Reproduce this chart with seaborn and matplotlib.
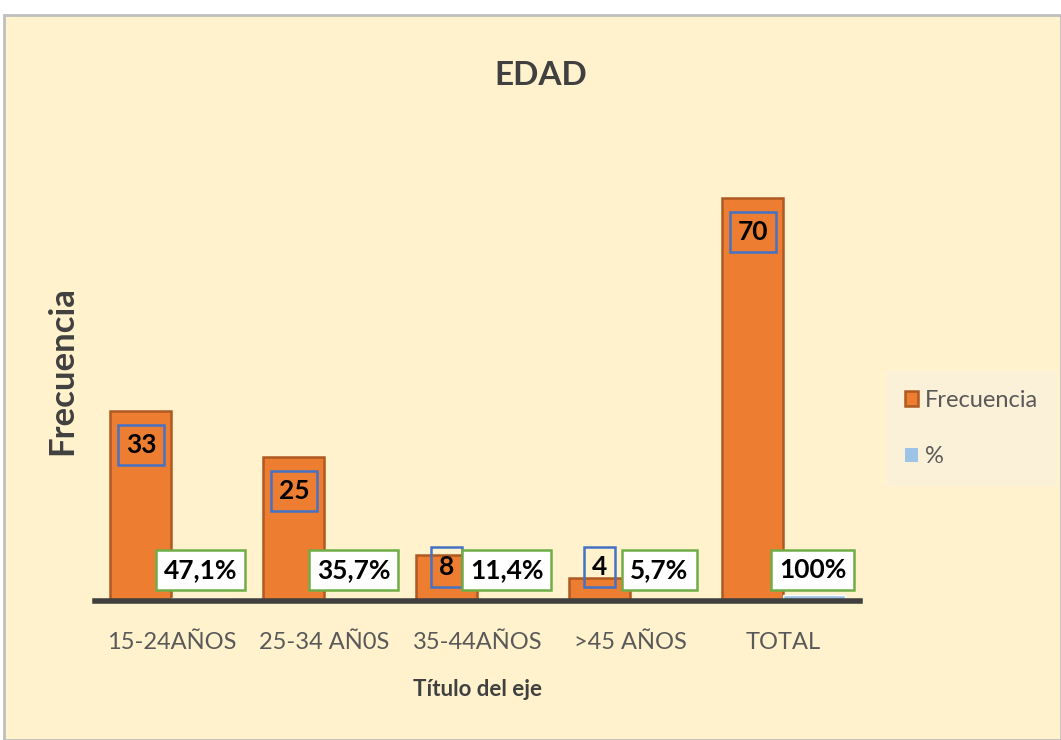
import numpy as np
import pandas as pd
import matplotlib.pyplot as plt
from matplotlib.patches import Rectangle, Patch
import seaborn as sns

# data
categorias = ['15-24AÑOS', '25-34 AÑ0S', '35-44AÑOS', '>45 AÑOS', 'TOTAL']
frecuencia = [33, 25, 8, 4, 70]
porcentaje = [0.471, 0.357, 0.114, 0.057, 1.0]

def pct_label(v):
    s = f'{v*100:.1f}'.replace('.', ',')
    if s.endswith(',0'):
        s = s[:-2]
    return s + '%'

df = pd.DataFrame({
    'cat': categorias * 2,
    'valor': frecuencia + porcentaje,
    'serie': ['Frecuencia'] * len(categorias) + ['%'] * len(categorias),
})

sns.set_theme(style='white')
plt.rcParams['font.family'] = ['Lato', 'DejaVu Sans']

fig = plt.figure(figsize=(10.61, 7.4), dpi=100, facecolor='white')
fig.add_artist(Rectangle((0.004, 0), 0.996, 0.98, transform=fig.transFigure,
                         facecolor='#FFF2CC', edgecolor='#BFBFBF', linewidth=2, zorder=-10))
ax = fig.add_axes([0.0895, 0.1878, 0.721, 0.623])
ax.set_facecolor('none')

orange = '#ED7D31'
blue = '#9DC3E6'
sns.barplot(data=df, x='cat', y='valor', hue='serie', palette=[orange, blue],
            ax=ax, width=0.8, gap=0, saturation=1, legend=False)
for p in ax.containers[0]:
    p.set_edgecolor('#AE5A21')
    p.set_linewidth(1.8)

ax.set_xlim(-0.5, 4.5)
ax.set_ylim(0, 80)
ax.set_yticks([])
for s in ['left', 'right', 'top']:
    ax.spines[s].set_visible(False)
ax.spines['bottom'].set_color('#404040')
ax.spines['bottom'].set_linewidth(4)
ax.tick_params(axis='x', length=0, labelsize=17, colors='#595959', pad=22)

# frequency labels
for i, v in enumerate(frecuencia):
    y = max(v - 5.9, 5.9)
    ax.text(i - 0.2, y, str(v), ha='center', va='center', fontsize=19, fontweight='bold',
            color='black',
            bbox=dict(boxstyle='square,pad=0.3', facecolor='none', edgecolor='#4472C4', linewidth=1.8))

# percentage labels
for i, v in enumerate(porcentaje):
    ax.text(i + 0.19, 5.4, pct_label(v), ha='center', va='center', fontsize=19, fontweight='bold',
            color='black',
            bbox=dict(boxstyle='square,pad=0.3', facecolor='white', edgecolor='#70AD47', linewidth=1.8))

ax.set_xlabel('Título del eje', fontsize=16, fontweight='bold', color='#404040', labelpad=19)
ax.set_ylabel('Frecuencia', fontsize=25, fontweight='bold', color='#404040', labelpad=12)
fig.text(0.51, 0.898, 'EDAD', ha='center', va='center', fontsize=24, fontweight='bold', color='#404040')

handles = [Patch(facecolor=orange, edgecolor='#AE5A21', linewidth=1.8, label='Frecuencia'),
           Patch(facecolor=blue, edgecolor='none', label='%')]
leg = fig.legend(handles=handles, loc='upper left', bbox_to_anchor=(0.842, 0.489),
                 frameon=True, fontsize=17, handlelength=0.55, handleheight=0.55,
                 handletextpad=0.3, labelspacing=1.5, borderpad=0.5, borderaxespad=0,
                 labelcolor='#595959')
leg.get_frame().set_facecolor('#FBF0DC')
leg.get_frame().set_edgecolor('none')
leg.get_frame().set_boxstyle('square')

fig.savefig('out.png', dpi=100)
